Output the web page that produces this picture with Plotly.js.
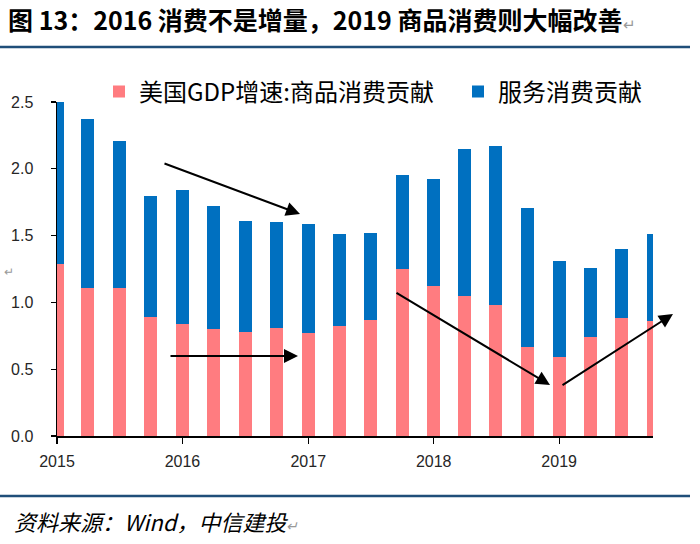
<!DOCTYPE html>
<html>
<head>
<meta charset="utf-8">
<script src="https://cdn.plot.ly/plotly-3.0.1.min.js"></script>
<style>html,body{margin:0;padding:0;background:#fff;}#chart{width:700px;height:544px;}</style>
</head>
<body>
<div id="chart"></div>
<script>
// Quarter (bar position) labels
var quarters = ['2015-01-01','2015-04-01','2015-07-01','2015-10-01',
                '2016-01-01','2016-04-01','2016-07-01','2016-10-01',
                '2017-01-01','2017-04-01','2017-07-01','2017-10-01',
                '2018-01-01','2018-04-01','2018-07-01','2018-10-01',
                '2019-01-01','2019-04-01','2019-07-01','2019-10-01'];
// 美国GDP增速:商品消费贡献
var goods = [1.29,1.11,1.11,0.89, 0.84,0.80,0.78,0.81, 0.77,0.82,0.87,1.25, 1.12,1.05,0.98,0.665, 0.59,0.74,0.88,0.86];
// 服务消费贡献
var services = [1.22,1.26,1.10,0.91, 1.00,0.92,0.83,0.79, 0.82,0.69,0.65,0.70, 0.80,1.10,1.19,1.04, 0.72,0.52,0.52,0.65];
var seriesNames = ['美国GDP增速:商品消费贡献','服务消费贡献'];
var yearTicks = ['2015-01-01','2016-01-01','2017-01-01','2018-01-01','2019-01-01'];
var yearLabels = ['2015','2016','2017','2018','2019'];
var yTicks = [0,0.5,1.0,1.5,2.0,2.5];

var titleText = '<b>图 13：2016 消费不是增量，2019 商品消费则大幅改善</b><span style="color:#999;font-size:15px">↵</span>';
var sourceText = '资料来源：Wind，中信建投<span style="color:#999;font-size:14px">↵</span>';

// layout geometry (pixels)
var L = 57, R = 47, T = 102, B = 108, W = 700, H = 544;
var pw = W - L - R, ph = H - T - B;
function px2x(px){ return (px - L) / pw; }
function px2y(py){ return (H - B - py) / ph; }

var traces = [
  {type:'bar', x: quarters, y: goods, name: seriesNames[0], marker:{color:'#FF7C80'}, legend:'legend'},
  {type:'bar', x: quarters, y: services, name: seriesNames[1], marker:{color:'#0070C0'}, legend:'legend2'}
];

function arrow(hx, hy, tx, ty){
  return {xref:'paper', yref:'paper', x:px2x(hx), y:px2y(hy), ax: tx-hx, ay: ty-hy,
          text:'', showarrow:true, arrowhead:2, arrowsize:1.4, arrowwidth:2, arrowcolor:'#000', standoff:0};
}
function legendAt(px){
  return {orientation:'h', x:px2x(px), xanchor:'left', y:px2y(92), yanchor:'middle',
          font:{family:'Noto Sans CJK SC', size:24, color:'#000'}, bgcolor:'rgba(0,0,0,0)', borderwidth:0};
}

var layout = {
  width: W, height: H,
  margin: {l:L, r:R, t:T, b:B, pad:0, autoexpand:false},
  paper_bgcolor:'#fff', plot_bgcolor:'#fff',
  barmode:'stack', bargap:0.58,
  font:{family:'Liberation Sans, Arial, sans-serif', color:'#333'},
  title:{text:titleText, xref:'container', yref:'container', x:8/W, xanchor:'left', y:1-21/H, yanchor:'middle',
         font:{family:'Noto Sans CJK SC', size:25, color:'#000'}},
  xaxis:{type:'date', range:['2015-01-01','2019-10-01'], tickvals: yearTicks, ticktext: yearLabels,
         showline:true, linecolor:'#000', linewidth:1.5, ticks:'outside', ticklen:6, tickcolor:'#000', tickwidth:1.2,
         showgrid:false, zeroline:false, tickfont:{size:16, color:'#262626'}, ticklabelstandoff:4},
  yaxis:{range:[0,2.5], tickvals: yTicks, tickformat:'.1f', showline:true, linecolor:'#000', linewidth:1.5,
         ticks:'outside', ticklen:5, tickcolor:'#000', tickwidth:1.2, showgrid:false, zeroline:false,
         tickfont:{size:16, color:'#262626'}, ticklabelstandoff:14},
  showlegend:true,
  legend: legendAt(99),
  legend2: legendAt(458),
  shapes:[
    {type:'line', xref:'paper', yref:'paper', x0:px2x(0), x1:px2x(690), y0:px2y(47), y1:px2y(47), line:{color:'#1F4E79', width:2.5}},
    {type:'line', xref:'paper', yref:'paper', x0:px2x(0), x1:px2x(690), y0:px2y(496), y1:px2y(496), line:{color:'#1F4E79', width:2.5}}
  ],
  annotations:[
    arrow(300,214,163,163),
    arrow(298,356,169,356),
    arrow(550,385,395,292),
    arrow(673,314,561,386),
    {xref:'paper', yref:'paper', x:px2x(12), y:px2y(521), xanchor:'left', yanchor:'middle', showarrow:false,
     text:sourceText, font:{family:'Noto Sans CJK SC', size:22, style:'italic', color:'#000'}},
    {xref:'paper', yref:'paper', x:px2x(2), y:px2y(272), xanchor:'left', yanchor:'middle', showarrow:false,
     text:'↵', font:{size:12, color:'#999'}}
  ]
};

Plotly.newPlot('chart', traces, layout, {displayModeBar:false, staticPlot:true});
</script>
</body>
</html>
